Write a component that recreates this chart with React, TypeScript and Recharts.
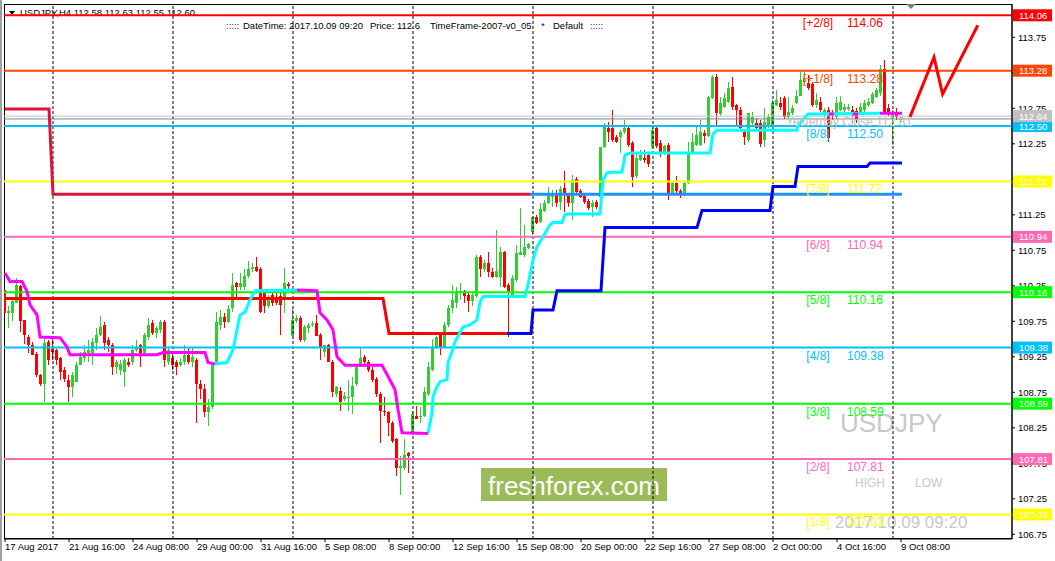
import React from "react";
import {
  ComposedChart,
  XAxis,
  YAxis,
  Bar,
  Line,
  ReferenceLine,
  ReferenceDot,
} from "recharts";

// USDJPY H4 candles, 17 Aug 2017 00:00 .. 9 Oct 2017 08:00 (bar index = position)
const opens = [
  110.19, 109.87, 109.87, 110.01, 110.25, 109.77, 109.53, 109.42, 109.29, 108.99,
  108.86, 109.46, 109.36, 109.34, 109.24, 109.07, 108.93, 108.82, 108.9, 109.14,
  109.24, 109.31, 109.31, 109.45, 109.56, 109.7, 109.49, 109.42, 109.11, 109.07,
  109.03, 109.18, 109.17, 109.35, 109.41, 109.31, 109.53, 109.73, 109.58, 109.63,
  109.74, 109.18, 109.24, 109.17, 109.14, 109.17, 109.28, 109.17, 109.2, 108.86,
  108.79, 108.47, 108.55, 109.17, 109.7, 109.81, 109.74, 109.94, 110.29, 110.24,
  110.24, 110.39, 110.48, 110.52, 110.49, 110.15, 109.96, 110.12, 110.07, 110.1,
  110.05, 110.28, 109.55, 109.76, 109.8, 109.49, 109.66, 109.7, 109.73, 109.56,
  109.32, 109.41, 109.18, 108.72, 108.77, 108.66, 108.68, 108.68, 108.86, 109.11,
  109.25, 109.17, 109.07, 108.94, 108.72, 108.49, 108.47, 108.32, 108.09, 107.69,
  107.69, 107.89, 108.18, 108.42, 108.4, 108.41, 108.72, 109.07, 109.38, 109.56,
  109.39, 109.7, 109.94, 110.01, 110.17, 110.17, 110.12, 110.03, 110.1, 110.66,
  110.48, 110.57, 110.45, 110.38, 110.38, 110.73, 110.26, 110.1, 110.33, 110.69,
  110.69, 110.78, 111.01, 111.22, 111.15, 111.3, 111.42, 111.5, 111.56, 111.43,
  111.63, 111.53, 111.42, 111.75, 111.59, 111.52, 111.45, 111.36, 111.43, 111.5,
  112.2, 112.47, 112.47, 112.34, 112.34, 112.41, 112.47, 112.26, 111.8, 112.02,
  112.05, 112.09, 112.2, 112.47, 112.26, 112.12, 112.23, 111.56, 111.7, 111.59,
  111.56, 111.7, 112.12, 112.23, 112.23, 112.4, 112.36, 112.89, 113.19, 112.67,
  112.77, 112.84, 113.05, 112.79, 112.72, 112.41, 112.3, 112.55, 112.55, 112.54,
  112.3, 112.49, 112.5, 112.79, 112.82, 112.89, 112.63, 112.68, 112.82, 112.93,
  113.12, 113.1, 113.09, 112.79, 112.84, 112.65, 112.72, 112.68, 112.63, 112.72,
  112.72, 112.74, 112.72, 112.71, 112.7, 112.72, 112.79, 112.82, 112.91, 112.96,
  113.31, 112.75, 112.61, 112.68, 112.58,
];
const highs = [
  110.21, 109.96, 110.05, 110.36, 110.26, 109.77, 109.56, 109.46, 109.32, 109.01,
  109.52, 109.49, 109.52, 109.36, 109.25, 109.1, 108.99, 109.04, 109.17, 109.32,
  109.42, 109.49, 109.52, 109.66, 109.83, 109.74, 109.53, 109.45, 109.2, 109.21,
  109.24, 109.24, 109.42, 109.48, 109.43, 109.59, 109.8, 109.77, 109.69, 109.77,
  109.77, 109.38, 109.32, 109.21, 109.24, 109.42, 109.39, 109.39, 109.24, 108.93,
  108.86, 108.65, 109.18, 109.88, 109.91, 109.86, 109.98, 110.43, 110.31, 110.43,
  110.48, 110.6, 110.57, 110.66, 110.52, 110.19, 110.12, 110.19, 110.17, 110.17,
  110.5, 110.31, 109.93, 109.84, 109.83, 109.7, 109.73, 109.76, 109.84, 109.59,
  109.42, 109.43, 109.21, 108.84, 108.82, 108.75, 108.93, 108.97, 109.11, 109.38,
  109.27, 109.2, 109.11, 108.97, 108.75, 108.69, 108.49, 108.35, 108.11, 107.85,
  108.09, 107.91, 108.48, 108.56, 108.54, 108.82, 109.17, 109.5, 109.55, 109.59,
  109.74, 109.98, 110.26, 110.24, 110.29, 110.19, 110.15, 110.17, 110.69, 110.69,
  110.62, 110.73, 110.5, 111.04, 110.8, 110.74, 110.29, 110.4, 110.83, 111.35,
  111.11, 110.85, 111.22, 111.25, 111.42, 111.46, 111.64, 111.6, 111.6, 111.66,
  111.87, 111.56, 111.81, 111.78, 111.61, 111.54, 111.47, 111.46, 111.46, 112.2,
  112.54, 112.56, 112.72, 112.37, 112.44, 112.58, 112.5, 112.29, 112.13, 112.16,
  112.16, 112.12, 112.51, 112.49, 112.3, 112.23, 112.26, 111.71, 111.8, 111.61,
  111.71, 112.28, 112.4, 112.49, 112.58, 112.44, 112.93, 113.22, 113.24, 112.91,
  112.96, 113.12, 113.19, 112.81, 112.77, 112.44, 112.68, 112.7, 112.61, 112.58,
  112.75, 112.67, 112.86, 113.01, 112.91, 112.92, 112.91, 112.79, 113.01, 113.26,
  113.26, 113.22, 113.12, 112.96, 112.91, 112.75, 112.77, 112.72, 112.91, 112.93,
  112.81, 112.81, 112.78, 112.75, 112.82, 112.86, 112.89, 112.98, 113.03, 113.36,
  113.43, 112.81, 112.72, 112.75, 112.63,
];
const lows = [
  109.87, 109.66, 109.76, 110.01, 109.6, 109.43, 109.31, 109.27, 108.96, 108.84,
  108.62, 109.14, 109.21, 109.14, 108.93, 108.9, 108.62, 108.69, 108.89, 109.13,
  109.17, 109.18, 109.13, 109.35, 109.55, 109.35, 109.32, 108.99, 109.01, 108.99,
  108.83, 109.1, 109.13, 109.32, 109.11, 109.27, 109.49, 109.56, 109.52, 109.59,
  109.11, 109.13, 109.07, 108.99, 109.1, 109.14, 109.15, 109.1, 108.32, 108.65,
  108.4, 108.27, 108.51, 109.14, 109.63, 109.66, 109.72, 109.88, 110.08, 110.19,
  110.19, 110.36, 110.45, 110.45, 109.87, 109.87, 109.94, 109.97, 109.98, 109.56,
  109.87, 110.19, 109.53, 109.73, 109.46, 109.46, 109.59, 109.67, 109.55, 109.21,
  109.25, 109.17, 108.68, 108.68, 108.48, 108.63, 108.48, 108.44, 108.84, 109.1,
  109.14, 109.04, 108.9, 108.69, 108.04, 108.41, 108.13, 108.04, 107.57, 107.31,
  107.66, 107.62, 108.15, 108.37, 108.32, 108.4, 108.7, 109.05, 109.36, 109.28,
  109.38, 109.67, 109.87, 109.94, 110.05, 110.01, 109.88, 109.96, 110.08, 110.38,
  110.45, 110.38, 110.36, 110.36, 110.24, 110.22, 109.53, 110.08, 110.31, 110.68,
  110.66, 110.77, 110.97, 111.12, 111.14, 111.29, 111.4, 111.36, 111.36, 111.32,
  111.29, 111.36, 111.18, 111.56, 111.49, 111.4, 111.32, 111.22, 111.33, 111.25,
  112.19, 112.27, 112.27, 112.26, 112.12, 112.39, 112.2, 111.64, 111.77, 112.01,
  111.98, 111.92, 112.19, 112.19, 112.06, 112.09, 111.46, 111.54, 111.56, 111.49,
  111.52, 111.68, 112.1, 112.22, 112.22, 112.26, 112.34, 112.88, 112.51, 112.64,
  112.75, 112.82, 112.72, 112.51, 112.44, 112.23, 112.28, 112.49, 112.44, 112.2,
  112.2, 112.47, 112.49, 112.78, 112.72, 112.6, 112.61, 112.65, 112.81, 112.92,
  113.09, 113.01, 112.77, 112.75, 112.7, 112.63, 112.27, 112.58, 112.6, 112.71,
  112.7, 112.71, 112.54, 112.55, 112.65, 112.7, 112.77, 112.81, 112.89, 112.93,
  112.68, 112.64, 112.23, 112.58, 112.55,
];
const closes = [
  109.87, 109.9, 110.03, 110.26, 109.76, 109.56, 109.42, 109.28, 108.99, 108.86,
  109.45, 109.21, 109.32, 109.21, 109.04, 108.94, 108.82, 108.99, 109.14, 109.25,
  109.32, 109.34, 109.46, 109.56, 109.67, 109.45, 109.42, 109.11, 109.17, 109.15,
  109.2, 109.14, 109.35, 109.38, 109.31, 109.56, 109.7, 109.59, 109.66, 109.74,
  109.21, 109.35, 109.14, 109.11, 109.18, 109.28, 109.18, 109.25, 108.86, 108.79,
  108.47, 108.54, 109.14, 109.74, 109.81, 109.74, 109.93, 110.26, 110.24, 110.29,
  110.39, 110.48, 110.52, 110.46, 109.88, 109.96, 110.05, 110.01, 110.01, 109.98,
  110.29, 110.25, 109.77, 109.8, 109.48, 109.67, 109.7, 109.71, 109.55, 109.39,
  109.42, 109.17, 108.75, 108.82, 108.62, 108.7, 108.69, 108.84, 109.11, 109.24,
  109.17, 109.07, 108.93, 108.72, 108.48, 108.47, 108.32, 108.06, 107.69, 107.71,
  107.87, 107.85, 108.44, 108.37, 108.42, 108.75, 109.1, 109.39, 109.53, 109.39,
  109.7, 109.94, 110.05, 110.17, 110.18, 110.1, 110.03, 110.12, 110.66, 110.48,
  110.57, 110.45, 110.38, 110.46, 110.73, 110.24, 110.18, 110.36, 110.71, 110.73,
  110.8, 110.84, 111.22, 111.14, 111.33, 111.42, 111.53, 111.52, 111.42, 111.61,
  111.53, 111.42, 111.74, 111.57, 111.5, 111.43, 111.35, 111.42, 111.36, 112.2,
  112.49, 112.41, 112.3, 112.27, 112.41, 112.47, 112.23, 111.78, 112.05, 112.09,
  112.02, 111.96, 112.44, 112.22, 112.12, 112.22, 111.56, 111.7, 111.59, 111.56,
  111.7, 112.13, 112.27, 112.37, 112.41, 112.36, 112.91, 113.19, 112.68, 112.82,
  112.89, 113.04, 112.77, 112.72, 112.47, 112.34, 112.68, 112.63, 112.47, 112.25,
  112.56, 112.63, 112.82, 112.86, 112.77, 112.63, 112.7, 112.75, 112.93, 113.15,
  113.17, 113.04, 112.79, 112.86, 112.72, 112.72, 112.33, 112.65, 112.82, 112.84,
  112.77, 112.77, 112.65, 112.58, 112.77, 112.82, 112.84, 112.95, 113.01, 113.31,
  112.7, 112.68, 112.68, 112.63, 112.6,
];

const timeTickIdx = [0, 16, 32, 48, 64, 80, 96, 112, 128, 144, 160, 176, 192, 208, 224];
const timeTickLabels = [
  "17 Aug 2017", "21 Aug 16:00", "24 Aug 08:00", "29 Aug 00:00", "31 Aug 16:00",
  "5 Sep 08:00", "8 Sep 00:00", "12 Sep 16:00", "15 Sep 08:00", "20 Sep 00:00",
  "22 Sep 16:00", "27 Sep 08:00", "2 Oct 00:00", "4 Oct 16:00", "9 Oct 08:00",
];
const weekStartIdx = [12, 42, 72, 102, 132, 162, 192, 222];
const priceTicks = [
  106.75, 107.25, 107.75, 108.25, 108.75, 109.25, 109.75, 110.25,
  110.75, 111.25, 111.75, 112.25, 112.75, 113.25, 113.75,
];

// Murrey math levels
const murreyLevels = [114.06, 113.28, 112.5, 111.72, 110.94, 110.16, 109.38, 108.59, 107.81, 107.03];
const murreyNames = ["[+2/8]", "[+1/8]", "[8/8]", "[7/8]", "[6/8]", "[5/8]", "[4/8]", "[3/8]", "[2/8]", "[1/8]"];
const murreyColors = [
  "#ff0000", "#ff4500", "#00bfff", "#ffff00", "#ff69b4",
  "#00ff00", "#00bfff", "#00ff00", "#ff69b4", "#ffff00",
];
const askPrice = 112.64;
const bidPrice = 112.6;
const boxPrices = [...murreyLevels, askPrice];
const boxColors = [...murreyColors, "#c0c0c0"];

// trend lines (bar index / price)
const crimsonIdx = [0, 11, 12, 131.25];
const crimsonVal = [112.74, 112.74, 111.54, 111.54];
const dodgerIdx = [131.25, 224.25];
const dodgerVal = [111.54, 111.54];
const redStepIdx = [0, 94.5, 96, 125.5];
const redStepVal = [110.07, 110.07, 109.58, 109.58];
const blueStepIdx = [125.5, 131.5, 132, 137, 138, 149, 150, 173, 174.25, 191.25, 192, 197.5, 198.25, 215.5, 216.25, 224.25];
const blueStepVal = [109.58, 109.58, 109.91, 109.91, 110.18, 110.18, 111.07, 111.07, 111.31, 111.31, 111.65, 111.65, 111.93, 111.93, 111.98, 111.98];

const magentaIdx = [
  0, 1.25, 4.25, 5.5, 6.25, 8, 8.75, 13.75, 15.5, 16.25, 38, 39.5, 50, 50.75, 52.5,
  60,
  73, 78, 78.75, 80.5, 82, 83, 85, 94.25, 95.5, 97.5, 98.25, 99.25, 105.75,
  150, 206, 207.25, 210, 212, 213.25, 216, 218.75, 224.25,
];
const magentaVal = [
  110.43, 110.31, 110.31, 110.17, 109.98, 109.84, 109.53, 109.52, 109.39, 109.28, 109.28, 109.31, 109.31, 109.17, 109.15,
  null,
  110.19, 110.18, 109.87, 109.77, 109.63, 109.25, 109.13, 109.13, 109.0, 108.79, 108.51, 108.18, 108.17,
  null, 112.67, 112.67, null, 112.67, 112.67, null, 112.68, 112.68,
];
const cyanIdx = [
  52.5, 55.5, 57, 58, 58.75, 60, 61.25, 62.5, 73,
  90,
  105.75, 106.75, 107, 108, 108.75, 110.5, 110.75, 111.75, 112.5, 113.75,
  114.5, 116.25, 118, 118.75, 119.5, 130, 130.75, 132, 133, 134.5,
  136.25, 137, 139.25, 140, 140.75, 148.75, 149.5, 150.5, 151.25, 154.25,
  155, 156.25, 176.25, 177, 178, 198, 198.25, 200.75, 218.75,
];
const cyanVal = [
  109.15, 109.17, 109.35, 109.63, 109.84, 109.88, 110.05, 110.18, 110.19,
  null,
  108.17, 108.46, 108.69, 108.83, 108.9, 108.93, 109.17, 109.32, 109.46, 109.59,
  109.67, 109.7, 109.77, 110.02, 110.1, 110.1, 110.26, 110.62, 110.8, 110.94,
  111.11, 111.14, 111.14, 111.25, 111.26, 111.26, 111.74, 111.84, 111.85, 111.85,
  112.09, 112.12, 112.12, 112.39, 112.44, 112.44, 112.51, 112.67, 112.68,
];
const forecastIdx = [226.25, 232.25, 234.4, 243.2];
const forecastVal = [112.63, 113.47, 112.95, 113.92];

const candles = opens.map((o, k) => ({
  i: k,
  o,
  h: highs[k],
  l: lows[k],
  c: closes[k],
  range: [lows[k], highs[k]],
}));

const pts = (idx: number[], vals: (number | null)[]) =>
  idx.map((i, k) => ({ i, v: vals[k] }));

const FONT = '"Liberation Sans", Arial, sans-serif';
const PRICE_DOMAIN: [number, number] = [106.684, 114.219];

function Candle(props: any) {
  const { x, y, width, height, payload } = props;
  if (x == null || y == null || !payload) return null;
  const top = Math.min(y, y + height);
  const span = Math.abs(height);
  const { o, h, l, c } = payload;
  const k = h > l ? span / (h - l) : 0;
  const color = c >= o ? "#32cd32" : "#ff0000";
  const left = Math.round(x + width / 2 - 1.5);
  const bodyTop = top + (h - Math.max(o, c)) * k;
  const bodyH = Math.max(1, Math.abs(o - c) * k);
  return (
    <g shapeRendering="crispEdges">
      <line x1={left + 1.5} x2={left + 1.5} y1={top} y2={top + span} stroke={color} />
      <rect x={left} y={bodyTop} width={3} height={bodyH} fill={color} />
    </g>
  );
}

function TimeTick(props: any) {
  const { x, y, payload } = props;
  const label = timeTickLabels[timeTickIdx.indexOf(payload.value)] ?? "";
  return (
    <text x={x} y={y} dy="0.75em" fontSize={9.5} fill="#000" textAnchor="start">
      {label}
    </text>
  );
}

// coloured price tag on the right scale, drawn as the tick of an extra axis
function BoxTick(props: any) {
  const { y, payload } = props;
  const k = boxPrices.indexOf(payload.value);
  if (k < 0) return null;
  return (
    <g>
      <rect x={1013} y={y - 6} width={39} height={12} fill={boxColors[k]} />
      <text x={1019} y={y + 3.5} fill="#fff" fontSize={9.5}>
        {payload.value.toFixed(2)}
      </text>
    </g>
  );
}

function DotText(props: any) {
  const { viewBox, text, color, size, anchor, dy } = props;
  if (!viewBox) return null;
  return (
    <text x={viewBox.x} y={viewBox.y + dy} fill={color} fontSize={size} textAnchor={anchor}>
      {text}
    </text>
  );
}

export default function App() {
  return (
    <div
      style={{
        position: "absolute",
        left: 0,
        top: 0,
        width: 1055,
        height: 561,
        background: "#fff",
        fontFamily: FONT,
      }}
    >
      {/* background layer: header, watermark, logo */}
      <svg width={1055} height={561} style={{ position: "absolute", left: 0, top: 0 }}>
        <rect x={0} y={0} width={2} height={561} fill="#a0a0a0" />
        <rect x={4.5} y={4.5} width={1007.5} height={534} fill="none" stroke="#000" />
        <polygon points="9,11 15,11 12,15" fill="#000" />
        <text x={20} y={16} fontSize={9.5} fill="#000">
          USDJPY,H4 112.58 112.63 112.55 112.60
        </text>
        <text x={226} y={29} fontSize={9.5} fill="#6a006a">:::::</text>
        <text x={243} y={29} fontSize={9.5} fill="#000">DateTime: 2017.10.09 09:20</text>
        <text x={370} y={29} fontSize={9.5} fill="#000">Price: 112.6</text>
        <text x={430} y={29} fontSize={9.5} fill="#000">TimeFrame-2007-v0_05</text>
        <text x={541} y={29} fontSize={9.5} fill="#0000ff">*</text>
        <text x={553} y={29} fontSize={9.5} fill="#000">Default</text>
        <text x={590} y={29} fontSize={9.5} fill="#6a006a">:::::</text>
        <polygon points="906,4 916,4 911,9" fill="#808080" />
        <rect x={481} y={468} width={186} height={33} fill="#9bbb59" />
        <text x={574} y={495} fontSize={26} fill="#fff" textAnchor="middle">
          freshforex.com
        </text>
        <text x={840} y={432} fontSize={26} fill="#c8c8c8">USDJPY</text>
        <text x={855} y={487} fontSize={12} fill="#c8c8c8">HIGH</text>
        <text x={915} y={487} fontSize={12} fill="#c8c8c8">LOW</text>
        <text x={835} y={528} fontSize={17} fill="#c8c8c8">2017.10.09 09:20</text>
      </svg>

      <div style={{ position: "absolute", left: 0, top: 0 }}>
        <ComposedChart
          width={1055}
          height={561}
          data={candles}
          margin={{ top: 4, right: 0, bottom: 0, left: 4 }}
        >
          <XAxis
            dataKey="i"
            type="number"
            domain={[-0.25, 251.75]}
            allowDataOverflow
            ticks={timeTickIdx}
            interval={0}
            tickSize={3}
            tickMargin={1}
            height={22}
            stroke="#000"
            tick={<TimeTick />}
          />
          <YAxis
            orientation="right"
            type="number"
            domain={PRICE_DOMAIN}
            allowDataOverflow
            ticks={priceTicks}
            interval={0}
            tickSize={3}
            tickMargin={3}
            width={42}
            stroke="#000"
            tick={{ fontSize: 9.5, fill: "#000" }}
            tickFormatter={(v: number) => v.toFixed(2)}
          />
          <YAxis
            yAxisId="tags"
            orientation="right"
            type="number"
            domain={PRICE_DOMAIN}
            allowDataOverflow
            ticks={boxPrices}
            interval={0}
            width={1}
            axisLine={false}
            tickLine={false}
            tick={<BoxTick />}
          />
          {weekStartIdx.map((w) => (
            <ReferenceLine key={`w${w}`} x={w} stroke="#000" strokeDasharray="3 2" />
          ))}
          <Bar dataKey="range" barSize={3} shape={<Candle />} isAnimationActive={false} />
          {murreyLevels.map((lv, k) => (
            <ReferenceLine key={`m${k}`} y={lv} stroke={murreyColors[k]} strokeWidth={2} />
          ))}
          <ReferenceLine y={askPrice} stroke="#c0c0c0" />
          <ReferenceLine y={bidPrice} stroke="#778899" />
          <Line data={pts(crimsonIdx, crimsonVal)} dataKey="v" type="linear" stroke="#dc143c" strokeWidth={3} dot={false} activeDot={false} isAnimationActive={false} />
          <Line data={pts(dodgerIdx, dodgerVal)} dataKey="v" type="linear" stroke="#1e90ff" strokeWidth={3} dot={false} activeDot={false} isAnimationActive={false} />
          <Line data={pts(redStepIdx, redStepVal)} dataKey="v" type="linear" stroke="#ff0000" strokeWidth={3} dot={false} activeDot={false} isAnimationActive={false} />
          <Line data={pts(blueStepIdx, blueStepVal)} dataKey="v" type="linear" stroke="#0000ff" strokeWidth={3} dot={false} activeDot={false} isAnimationActive={false} />
          <Line data={pts(cyanIdx, cyanVal)} dataKey="v" type="linear" stroke="#00ffff" strokeWidth={3} dot={false} activeDot={false} connectNulls={false} isAnimationActive={false} />
          <Line data={pts(magentaIdx, magentaVal)} dataKey="v" type="linear" stroke="#ff00ff" strokeWidth={3} dot={false} activeDot={false} connectNulls={false} isAnimationActive={false} />
          <Line data={pts(forecastIdx, forecastVal)} dataKey="v" type="linear" stroke="#ff0000" strokeWidth={3} dot={false} activeDot={false} isAnimationActive={false} />
          {murreyLevels.map((lv, k) => (
            <ReferenceDot
              key={`n${k}`}
              x={203.25}
              y={lv}
              r={0}
              fill="none"
              stroke="none"
              label={<DotText text={murreyNames[k]} color={murreyColors[k]} size={12} anchor="middle" dy={12} />}
            />
          ))}
          {murreyLevels.map((lv, k) => (
            <ReferenceDot
              key={`v${k}`}
              x={210.5}
              y={lv}
              r={0}
              fill="none"
              stroke="none"
              label={<DotText text={lv.toFixed(2)} color={murreyColors[k]} size={12} anchor="start" dy={12} />}
            />
          ))}
          <ReferenceDot
            x={195.25}
            y={askPrice}
            r={0}
            fill="none"
            stroke="none"
            label={<DotText text="Yesterday Close 112.81" color="#c0c0c0" size={12} anchor="start" dy={10} />}
          />
        </ComposedChart>
      </div>
    </div>
  );
}
